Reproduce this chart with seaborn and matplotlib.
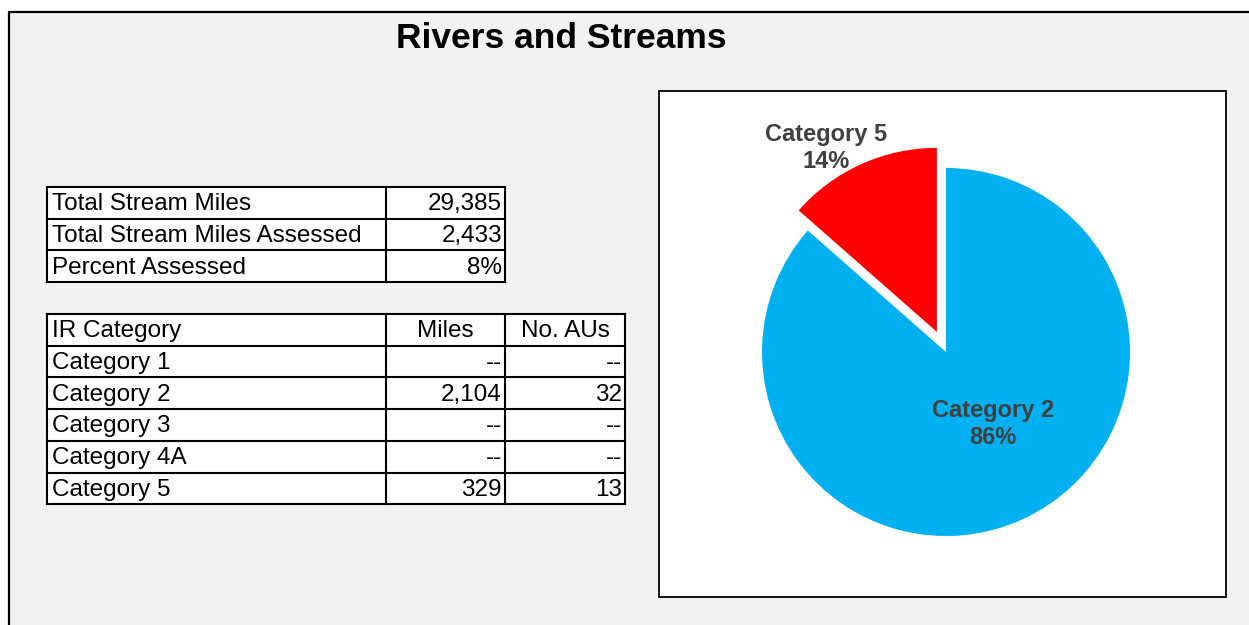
import matplotlib.pyplot as plt
import seaborn as sns
from matplotlib.patches import Rectangle

# Data
title = "Rivers and Streams"
total_miles = 29385
assessed_miles = 2433
summary_labels = ["Total Stream Miles", "Total Stream Miles Assessed", "Percent Assessed"]
table_header = ["IR Category", "Miles", "No. AUs"]
categories = ["Category 1", "Category 2", "Category 3", "Category 4A", "Category 5"]
miles = [None, 2104, None, None, 329]
no_aus = [None, 32, None, None, 13]
pie_colors = {"Category 2": "#00B0F0", "Category 5": "#FF0000"}

sns.set_theme(style="white")
plt.rcParams["font.family"] = ["Liberation Sans", "DejaVu Sans"]

fig = plt.figure(figsize=(12.49, 6.25), dpi=100)
fig.patch.set_facecolor("white")

# background axes in pixel coordinates
bg = fig.add_axes([0, 0, 1, 1])
bg.set_xlim(0, 1249)
bg.set_ylim(625, 0)
bg.axis("off")

bg.add_patch(Rectangle((9, 12), 1249, 625, facecolor="#F2F2F2", edgecolor="none"))
bg.plot([9, 1249], [12, 12], color="black", lw=1.6)
bg.plot([9, 9], [12, 625], color="black", lw=1.6)

bg.text(561, 39, title, ha="center", va="center", fontsize=25.5, fontweight="bold", color="black")

# pie box
bg.add_patch(Rectangle((659, 91), 567, 506, facecolor="white", edgecolor="black", lw=1.3))


def fmt(v):
    return "--" if v is None else f"{v:,}"


def draw_table(x_edges, y_top, row_h, rows, aligns):
    n = len(rows)
    y_edges = [y_top + i * row_h for i in range(n + 1)]
    bg.add_patch(Rectangle((x_edges[0], y_top), x_edges[-1] - x_edges[0], n * row_h,
                           facecolor="white", edgecolor="none"))
    for y in y_edges:
        bg.plot([x_edges[0], x_edges[-1]], [y, y], color="black", lw=1.5, solid_capstyle="projecting")
    for x in x_edges:
        bg.plot([x, x], [y_edges[0], y_edges[-1]], color="black", lw=1.5, solid_capstyle="projecting")
    for i, row in enumerate(rows):
        yc = y_top + (i + 0.5) * row_h + 1.5
        for j, cell in enumerate(row):
            al = aligns[i][j]
            if al == "left":
                x = x_edges[j] + 5
            elif al == "right":
                x = x_edges[j + 1] - 3
            else:
                x = (x_edges[j] + x_edges[j + 1]) / 2
            bg.text(x, yc, cell, ha=al, va="center", fontsize=17.5, color="black")


# summary table
summary_values = [f"{total_miles:,}", f"{assessed_miles:,}", f"{assessed_miles / total_miles:.0%}"]
draw_table([47, 386, 505], 187, 31.7,
           [[l, v] for l, v in zip(summary_labels, summary_values)],
           [["left", "right"]] * len(summary_labels))

# category table
rows = [table_header] + [[c, fmt(m), fmt(a)] for c, m, a in zip(categories, miles, no_aus)]
aligns = [["left", "center", "center"]] + [["left", "right", "right"]] * len(categories)
draw_table([47, 386, 505, 625], 314, 31.7, rows, aligns)

# pie chart
pie_cats = [c for c, m in zip(categories, miles) if m]
pie_vals = [m for m in miles if m]
total = sum(pie_vals)

ax = fig.add_axes([716 / 1249, 1 - 582 / 625, 460 / 1249, 460 / 625])
wedges, _ = ax.pie(pie_vals, colors=[pie_colors[c] for c in pie_cats], startangle=90,
                   counterclock=False, explode=[0, 0.12],
                   wedgeprops=dict(linewidth=0))
ax.set_xlim(-1.25, 1.25)
ax.set_ylim(-1.25, 1.25)
ax.set_aspect("equal")
ax.axis("off")

label_pos = {"Category 2": (0.255, -0.39), "Category 5": (-0.652, 1.11)}
for c, v in zip(pie_cats, pie_vals):
    x, y = label_pos[c]
    ax.text(x, y, f"{c}\n{v / total:.0%}", ha="center", va="center", fontsize=17,
            fontweight="bold", color="#404040", linespacing=1.25)

plt.savefig("out.png", dpi=100)
